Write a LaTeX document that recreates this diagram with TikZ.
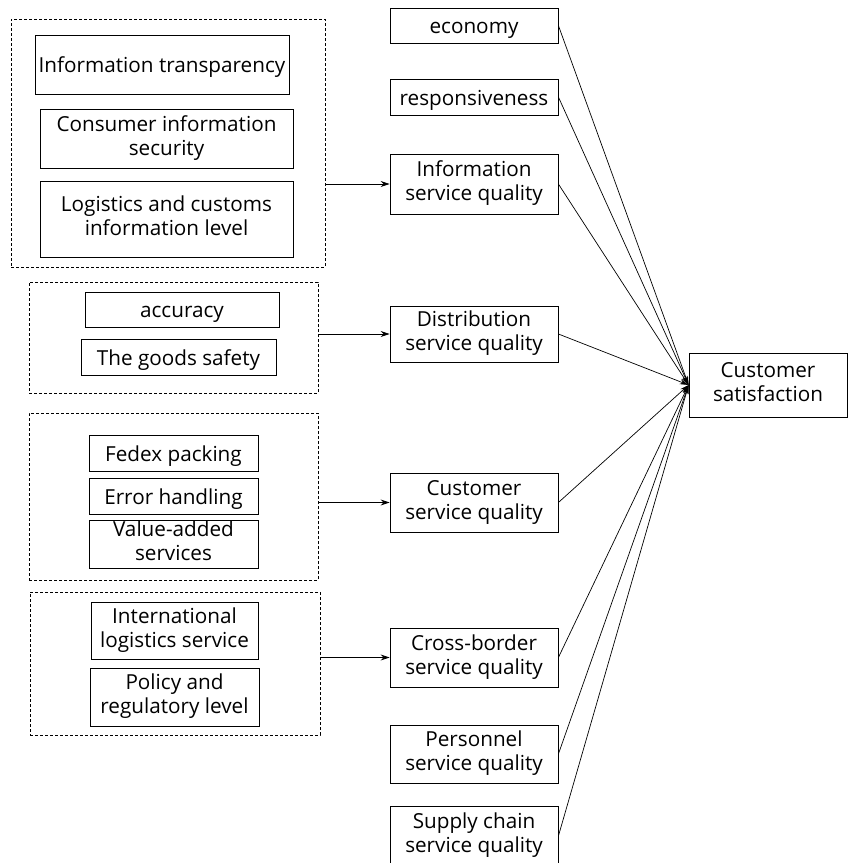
\documentclass[tikz,border=0pt]{standalone}
\usepackage{fontspec}
\setmainfont{Open Sans}
\usetikzlibrary{arrows.meta}
\tikzset{
  bx/.style={draw, line width=0.8pt, rectangle, inner sep=0pt, align=center,
    font=\fontsize{20.7}{24}\selectfont,
    execute at begin node={\rule{0pt}{22pt}},
    execute at end node={\rule[-6pt]{0pt}{6pt}}},
  grp/.style={draw, line width=0.8pt, dash pattern=on 3pt off 2pt, rectangle, inner sep=0pt},
  conn/.style={line width=0.8pt, -{Stealth[length=9pt,width=6pt]}},
  lnk/.style={line width=0.7pt, -{Stealth[length=9pt,width=5pt]}}
}
\begin{document}
\begin{tikzpicture}[x=1pt,y=-1pt]
\useasboundingbox (0,0) rectangle (848,863);
% group boxes
\node[grp, minimum width=314pt, minimum height=248pt] (D1) at (168,143) {};
\node[grp, minimum width=289pt, minimum height=111pt] (D2) at (173.5,337.5) {};
\node[grp, minimum width=289pt, minimum height=167pt] (D3) at (173.5,496.5) {};
\node[grp, minimum width=290pt, minimum height=143pt] (D4) at (175,663.5) {};
% inner boxes
\node[bx, minimum width=254pt, minimum height=59pt] (it) at (162,64.5) {Information transparency};
\node[bx, minimum width=253pt, minimum height=59pt] (cis) at (166.5,138.5) {Consumer information\\security};
\node[bx, minimum width=253pt, minimum height=76pt] (lci) at (166.5,219) {Logistics and customs\\information level};
\node[bx, minimum width=194pt, minimum height=35pt] (acc) at (182,309.5) {accuracy};
\node[bx, minimum width=195pt, minimum height=36pt] (gs) at (178.5,357) {The goods safety};
\node[bx, minimum width=169pt, minimum height=36pt] (fp) at (173.5,453) {Fedex packing};
\node[bx, minimum width=169pt, minimum height=36pt] (eh) at (173.5,496) {Error handling};
\node[bx, minimum width=169pt, minimum height=48pt] (va) at (173.5,544) {Value-added\\services};
\node[bx, minimum width=167pt, minimum height=57pt] (ils) at (174.5,630.5) {International\\logistics service};
\node[bx, minimum width=169pt, minimum height=58pt] (prl) at (174.5,697) {Policy and\\regulatory level};
% middle column
\node[bx, minimum width=168pt, minimum height=35pt] (eco) at (474,25.5) {economy};
\node[bx, minimum width=168pt, minimum height=36pt] (resp) at (474,97) {responsiveness};
\node[bx, minimum width=168pt, minimum height=60pt] (isq) at (474,184) {Information\\service quality};
\node[bx, minimum width=168pt, minimum height=56pt] (dsq) at (474,334) {Distribution\\service quality};
\node[bx, minimum width=168pt, minimum height=59pt] (csq) at (474,502.5) {Customer\\service quality};
\node[bx, minimum width=168pt, minimum height=59pt] (cbsq) at (474,657.5) {Cross-border\\service quality};
\node[bx, minimum width=168pt, minimum height=58pt] (psq) at (474,754) {Personnel\\service quality};
\node[bx, minimum width=168pt, minimum height=60pt] (scsq) at (474,836) {Supply chain\\service quality};
% target
\node[bx, minimum width=158pt, minimum height=64pt] (cs) at (768,385) {Customer\\satisfaction};
% group arrows
\draw[conn] (D1.east |- isq.west) -- (isq.west);
\draw[conn] (D2.east |- dsq.west) -- (dsq.west);
\draw[conn] (D3.east |- csq.west) -- (csq.west);
\draw[conn] (D4.east |- cbsq.west) -- (cbsq.west);
% links to customer satisfaction
\foreach \s in {eco,resp,isq,dsq,csq,cbsq,psq,scsq}
  \draw[lnk] (\s.east) -- (cs.west);
\end{tikzpicture}
\end{document}
